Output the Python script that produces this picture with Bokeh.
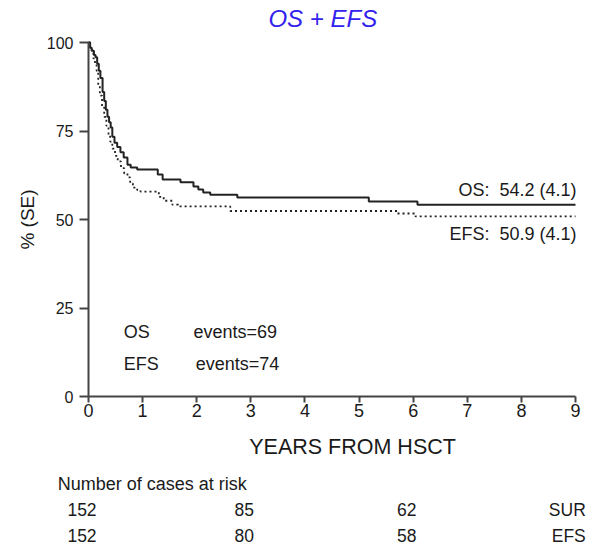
from bokeh.plotting import figure
from bokeh.models import Label, FixedTicker, Range1d
from bokeh.embed import file_html
from bokeh.resources import INLINE

# ---- data ----
os_t = [0.00, 0.03, 0.06, 0.10, 0.13, 0.16, 0.19, 0.22, 0.26, 0.29, 0.32, 0.35, 0.38, 0.41,
        0.44, 0.48, 0.53, 0.59, 0.65, 0.72, 0.78, 0.90, 1.28, 1.37, 1.70, 1.94, 2.03, 2.12,
        2.25, 2.75, 5.18, 6.08, 9.00]
os_s = [100.0, 98.5, 97.7, 96.5, 95.8, 94.0, 92.0, 90.0, 86.0, 83.5, 81.0, 79.0, 77.5, 76.0,
        73.4, 71.7, 70.5, 69.0, 67.5, 65.5, 64.7, 64.1, 62.7, 61.3, 60.5, 59.3, 58.5, 57.6,
        57.0, 56.2, 55.1, 54.2, 54.2]

efs_t = [0.00, 0.03, 0.06, 0.09, 0.12, 0.15, 0.18, 0.21, 0.25, 0.29, 0.33, 0.37, 0.40, 0.44,
         0.49, 0.54, 0.60, 0.66, 0.72, 0.77, 0.82, 0.90, 0.96, 1.30, 1.39, 1.55, 1.66, 2.62,
         5.71, 6.04, 9.00]
efs_s = [100.0, 98.5, 97.0, 95.5, 94.0, 92.0, 88.0, 85.0, 82.0, 79.0, 76.5, 74.0, 72.0, 70.0,
         68.0, 66.4, 64.5, 63.0, 61.9, 60.2, 59.0, 58.3, 57.9, 56.4, 55.3, 54.2, 53.7, 52.4,
         51.7, 50.9, 50.9]

x_ticks = [0, 1, 2, 3, 4, 5, 6, 7, 8, 9]
y_ticks = [0, 25, 50, 75, 100]

risk_times = [0, 3, 6]
os_risk = [152, 85, 62]
efs_risk = [152, 80, 58]

os_events = 69
efs_events = 74
os_final = "54.2 (4.1)"
efs_final = "50.9 (4.1)"

FONT = "Liberation Sans"
TXT = "#1a1a1a"
NB = "\u00a0"

# ---- layout: the frame fills the whole canvas; axes are pinned at 0 ----
W, H = 590, 545
LEFT, RIGHT, TOP, BOTTOM = 88, 575, 42, 396   # pixel box of the 0..9 x 0..100 plot area
X0, X1, Y0, Y1 = 0, 9, 0, 100
pxu = (RIGHT - LEFT) / (X1 - X0)
pyu = (BOTTOM - TOP) / (Y1 - Y0)

p = figure(width=W, height=H, output_backend="svg", toolbar_location=None,
           x_range=Range1d(X0 - LEFT / pxu, X1 + (W - RIGHT) / pxu),
           y_range=Range1d(Y0 - (H - BOTTOM) / pyu, Y1 + TOP / pyu),
           min_border_left=0, min_border_right=0, min_border_top=0, min_border_bottom=0)
p.outline_line_color = None
p.grid.visible = False

p.step(os_t, os_s, mode="after", line_color="#222222", line_width=2)
p.step(efs_t, efs_s, mode="after", line_color="#222222", line_width=1.8, line_dash="2 3")

for ax in (p.xaxis[0], p.yaxis[0]):
    ax.fixed_location = 0
    ax.axis_line_width = 2
    ax.axis_line_color = "#444444"
    ax.major_tick_line_width = 2
    ax.major_tick_line_color = "#444444"
    ax.minor_tick_line_color = None
    ax.major_tick_in = 0
    ax.major_label_text_font = FONT
    ax.major_label_text_color = TXT
    ax.axis_label_text_font = FONT
    ax.axis_label_text_font_style = "normal"
    ax.axis_label_text_color = TXT

p.xaxis.bounds = (X0, X1)
p.yaxis.bounds = (Y0, Y1)
p.xaxis.ticker = FixedTicker(ticks=x_ticks)
p.yaxis.ticker = FixedTicker(ticks=y_ticks)
p.xaxis.major_tick_out = 6
p.yaxis.major_tick_out = 9
p.xaxis.major_label_text_font_size = "18px"
p.yaxis.major_label_text_font_size = "16px"
p.xaxis.major_label_standoff = 1
p.yaxis.major_label_standoff = 6
p.yaxis.axis_label = "% (SE)"
p.yaxis.axis_label_text_font_size = "19px"
p.yaxis.axis_label_standoff = 6


def lab(x, y, text, size="18px", align="left", style="normal", color=TXT):
    p.add_layout(Label(x=x, y=y, text=text, text_font=FONT, text_font_size=size,
                       text_align=align, text_baseline="middle", text_font_style=style,
                       text_color=color))


lab(4.33, 106.8, "OS + EFS", size="24px", align="center", style="italic", color="#3322ee")
lab(4.88, -14.4, "YEARS FROM HSCT", size="21.5px", align="center")

lab(9.02, 58.2, "OS:" + NB + NB + os_final, align="right")
lab(9.02, 46.0, "EFS:" + NB + NB + efs_final, align="right")
lab(0.65, 18.1, "OS")
lab(1.94, 18.1, "events=%d" % os_events)
lab(0.65, 9.3, "EFS")
lab(1.98, 9.3, "events=%d" % efs_events)

lab(-0.57, -24.6, "Number of cases at risk", size="18px")
for t, a, b in zip(risk_times, os_risk, efs_risk):
    lab(t - 0.12, -32.0, str(a), size="17.5px", align="center")
    lab(t - 0.12, -39.4, str(b), size="17.5px", align="center")
lab(9.19, -32.0, "SUR", size="17.5px", align="right")
lab(9.19, -39.4, "EFS", size="17.5px", align="right")

open("out.html", "w").write(file_html(p, INLINE))
